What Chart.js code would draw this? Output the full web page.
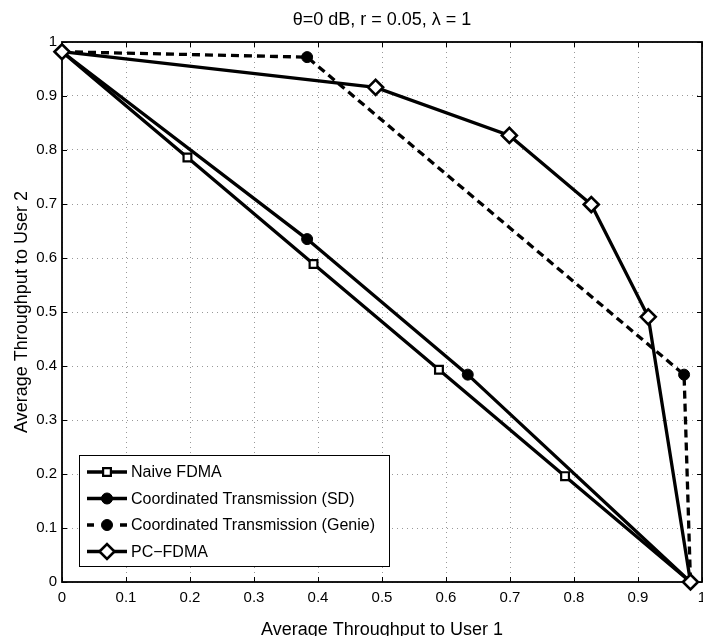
<!DOCTYPE html>
<html>
<head>
<meta charset="utf-8">
<title>Average throughput region</title>
<script src="https://cdn.jsdelivr.net/npm/chart.js@4.4.1/dist/chart.umd.min.js"></script>
<style>
    html, body { margin: 0; padding: 0; background: #fff; overflow: hidden; }
    #wrap { position: absolute; left: 0; top: 0; width: 720px; height: 650px; }
</style>
</head>
<body>
<div id="wrap"><canvas id="region" width="720" height="650"></canvas></div>
<script>
// Chart data
const TITLE = 'θ=0 dB, r = 0.05, λ = 1';
const X_TITLE = 'Average Throughput to User 1';
const Y_TITLE = 'Average Throughput to User 2';
const X_TICK_LABELS = ['0', '0.1', '0.2', '0.3', '0.4', '0.5', '0.6', '0.7', '0.8', '0.9', '1'];
const Y_TICK_LABELS = ['0', '0.1', '0.2', '0.3', '0.4', '0.5', '0.6', '0.7', '0.8', '0.9', '1'];

const SERIES_NAMES = ['Naive FDMA', 'Coordinated Transmission (SD)', 'Coordinated Transmission (Genie)', 'PC\u2212FDMA'];

const NAIVE_X = [0, 0.196, 0.393, 0.589, 0.786, 0.982];
const NAIVE_Y = [0.982, 0.786, 0.589, 0.393, 0.196, 0];

const SD_X = [0, 0.383, 0.634, 0.982];
const SD_Y = [0.982, 0.635, 0.384, 0];

const GENIE_X = [0, 0.383, 0.972, 0.982];
const GENIE_Y = [0.982, 0.972, 0.384, 0];

const PC_X = [0, 0.490, 0.699, 0.827, 0.916, 0.982];
const PC_Y = [0.982, 0.916, 0.827, 0.699, 0.491, 0];

const FONT = "'Liberation Sans', Arial, Helvetica, sans-serif";
const TICK_LEN = 5;

function toPoints(xs, ys) {
    return xs.map((x, i) => ({ x: x, y: ys[i] }));
}

// endpoints are shared with PC-FDMA, so only inner markers are drawn
function innerRadius(r) {
    return ctx => (ctx.dataIndex === 0 || ctx.dataIndex === ctx.dataset.data.length - 1) ? 0 : r;
}

const datasets = [{
    label: SERIES_NAMES[0],
    data: toPoints(NAIVE_X, NAIVE_Y),
    borderColor: '#000',
    borderWidth: 3.3,
    pointStyle: 'rect',
    pointRadius: innerRadius(5.5),
    legendRadius: 5.5,
    pointBackgroundColor: '#fff',
    pointBorderColor: '#000',
    pointBorderWidth: 2.2,
    order: 3
}, {
    label: SERIES_NAMES[1],
    data: toPoints(SD_X, SD_Y),
    borderColor: '#000',
    borderWidth: 3.3,
    pointStyle: 'circle',
    pointRadius: innerRadius(5.5),
    legendRadius: 5.5,
    pointBackgroundColor: '#000',
    pointBorderColor: '#000',
    pointBorderWidth: 1,
    order: 2
}, {
    label: SERIES_NAMES[2],
    data: toPoints(GENIE_X, GENIE_Y),
    borderColor: '#000',
    borderWidth: 3.3,
    borderDash: [8, 5],
    legendDash: [7, 26],
    pointStyle: 'circle',
    pointRadius: innerRadius(5.5),
    legendRadius: 5.5,
    pointBackgroundColor: '#000',
    pointBorderColor: '#000',
    pointBorderWidth: 1,
    order: 1
}, {
    label: SERIES_NAMES[3],
    data: toPoints(PC_X, PC_Y),
    borderColor: '#000',
    borderWidth: 3.3,
    pointStyle: 'rectRot',
    pointRadius: 7.5,
    legendRadius: 7.5,
    pointBackgroundColor: '#fff',
    pointBorderColor: '#000',
    pointBorderWidth: 2.6,
    order: 0
}];
datasets.forEach(d => { d.tension = 0; d.clip = false; d.fill = false; });

// box, inward tick marks on all four sides (MATLAB look)
const framePlugin = {
    id: 'frame',
    beforeDatasetsDraw(chart) {
        const { ctx, chartArea: a, scales: { x, y } } = chart;
        ctx.save();
        ctx.strokeStyle = '#000';
        ctx.lineWidth = 1;
        ctx.beginPath();
        x.ticks.forEach(t => {
            const px = Math.round(x.getPixelForValue(t.value)) + 0.5;
            ctx.moveTo(px, a.bottom);
            ctx.lineTo(px, a.bottom - TICK_LEN);
            ctx.moveTo(px, a.top);
            ctx.lineTo(px, a.top + TICK_LEN);
        });
        y.ticks.forEach(t => {
            const py = Math.round(y.getPixelForValue(t.value)) + 0.5;
            ctx.moveTo(a.left, py);
            ctx.lineTo(a.left + TICK_LEN, py);
            ctx.moveTo(a.right, py);
            ctx.lineTo(a.right - TICK_LEN, py);
        });
        ctx.stroke();
        ctx.lineWidth = 1.8;
        ctx.strokeRect(a.left, a.top, a.right - a.left, a.bottom - a.top);
        ctx.restore();
    }
};

// legend box inside the lower left of the plot
const legendBoxPlugin = {
    id: 'legendBox',
    afterDatasetsDraw(chart) {
        const { ctx, chartArea: a } = chart;
        const left = a.left + 17;
        const top = a.top + 413;
        const width = 310;
        const height = 111;
        ctx.save();
        ctx.fillStyle = '#fff';
        ctx.fillRect(left, top, width, height);
        ctx.strokeStyle = '#000';
        ctx.lineWidth = 1;
        ctx.strokeRect(left + 0.5, top + 0.5, width, height);

        ctx.font = '16px ' + FONT;
        ctx.textBaseline = 'middle';
        ctx.textAlign = 'left';
        chart.data.datasets.forEach((ds, i) => {
            const cy = top + 17 + i * 26.5;
            ctx.save();
            ctx.strokeStyle = ds.borderColor;
            ctx.lineWidth = ds.borderWidth;
            ctx.setLineDash(ds.legendDash || []);
            ctx.beginPath();
            ctx.moveTo(left + 8, cy);
            ctx.lineTo(left + 48, cy);
            ctx.stroke();
            ctx.restore();

            ctx.fillStyle = ds.pointBackgroundColor;
            ctx.strokeStyle = ds.pointBorderColor;
            ctx.lineWidth = ds.pointBorderWidth;
            Chart.helpers.drawPoint(ctx, {
                pointStyle: ds.pointStyle,
                rotation: 0,
                radius: ds.legendRadius,
                borderWidth: ds.pointBorderWidth
            }, left + 28, cy);

            ctx.fillStyle = '#000';
            ctx.fillText(ds.label, left + 52, cy + 1);
        });
        ctx.restore();
    }
};

const tickFont = { family: FONT, size: 15 };
const titleFont = { family: FONT, size: 18 };

new Chart(document.getElementById('region'), {
    type: 'line',
    data: { datasets: datasets },
    options: {
        responsive: false,
        animation: false,
        devicePixelRatio: 1,
        layout: { padding: { left: 0, right: 18, top: 0, bottom: 0 } },
        plugins: {
            legend: { display: false },
            tooltip: { enabled: false },
            title: {
                display: true,
                text: TITLE,
                color: '#000',
                fullSize: false,
                font: { family: FONT, size: 18, weight: 'normal' },
                padding: { top: 9, bottom: 11.4 }
            }
        },
        scales: {
            x: {
                type: 'linear',
                min: 0,
                max: 1,
                afterFit: s => { s.height = 68; },
                ticks: {
                    stepSize: 0.1,
                    autoSkip: false,
                    maxRotation: 0,
                    padding: 7,
                    color: '#000',
                    font: tickFont,
                    callback: (v, i) => X_TICK_LABELS[i]
                },
                grid: { color: '#999', lineWidth: 1, drawTicks: false },
                border: { display: false, dash: [1, 4] },
                title: {
                    display: true,
                    text: X_TITLE,
                    color: '#000',
                    font: titleFont,
                    padding: { top: 0, bottom: 9 }
                }
            },
            y: {
                type: 'linear',
                min: 0,
                max: 1,
                afterFit: s => { s.width = 62; },
                ticks: {
                    stepSize: 0.1,
                    autoSkip: false,
                    padding: 5,
                    color: '#000',
                    font: tickFont,
                    callback: (v, i) => Y_TICK_LABELS[i]
                },
                grid: { color: '#999', lineWidth: 1, drawTicks: false },
                border: { display: false, dash: [1, 4] },
                title: {
                    display: true,
                    text: Y_TITLE,
                    color: '#000',
                    font: titleFont,
                    padding: { top: 11, bottom: 0 }
                }
            }
        }
    },
    plugins: [framePlugin, legendBoxPlugin]
});
</script>
</body>
</html>
